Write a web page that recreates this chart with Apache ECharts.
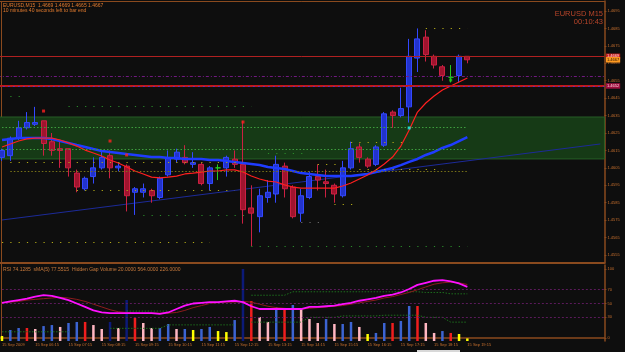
<!DOCTYPE html>
<html>
<head>
<meta charset="utf-8">
<script src="https://cdn.jsdelivr.net/npm/echarts@6.0.0/dist/echarts.min.js"></script>
<style>
html,body{margin:0;padding:0;background:#0e0e0e;overflow:hidden;}
#chart{width:625px;height:352px;}
</style>
</head>
<body>
<div id="chart"></div>
<script>
// ---------- data ----------
const times = ['05:15','05:30','05:45','06:00','06:15','06:30','06:45','07:00',
'07:15','07:30','07:45','08:00','08:15','08:30','08:45','09:00',
'09:15','09:30','09:45','10:00','10:15','10:30','10:45','11:00',
'11:15','11:30','11:45','12:00','12:15','12:30','12:45','13:00',
'13:15','13:30','13:45','14:00','14:15','14:30','14:45','15:00',
'15:15','15:30','15:45','16:00','16:15','16:30','16:45','17:00',
'17:15','17:30','17:45','18:00','18:15','18:30','18:45','19:00','19:15'];
const futureTimes = ['19:30','19:45','20:00','20:15','20:30','20:45','21:00','21:15',
'21:30','21:45','22:00','22:15','22:30','22:45','23:00','23:15'];

const opens = [1.4611,1.4612,1.4622,1.4628,1.4630,1.4632,1.4620,1.4616,1.4616,1.4602,
1.4593,1.4600,1.4605,1.4612,1.4605,1.4606,1.4591,1.4591,1.4592,1.4588,
1.4601,1.4610,1.4611,1.4607,1.4607,1.4596,1.4605,1.4605,1.4610,1.4607,
1.4582,1.4577,1.4588,1.4590,1.4606,1.4594,1.4579,1.4588,1.4600,1.4597,
1.4595,1.4589,1.4605,1.4617,1.4610,1.4607,1.4618,1.4637,1.4635,1.4640,
1.4668,1.4680,1.4669,1.4663,1.4657,1.4658,1.4669];
const closes = [1.4615,1.4622,1.4628,1.4631,1.4631,1.4619,1.4615,1.4615,1.4605,1.4594,
1.4599,1.4605,1.4611,1.4605,1.4606,1.4589,1.4593,1.4593,1.4589,1.4599,
1.4611,1.4614,1.4608,1.4608,1.4596,1.4605,1.4605,1.4611,1.4607,1.4581,
1.4579,1.4589,1.4591,1.4607,1.4593,1.4577,1.4589,1.4600,1.4598,1.4596,
1.4590,1.4605,1.4616,1.4611,1.4606,1.4617,1.4636,1.4635,1.4639,1.4669,
1.4679,1.4670,1.4664,1.4658,1.4657,1.4669,1.4667];
const lows = [1.4609,1.4609,1.4621,1.4627,1.4629,1.4612,1.4612,1.4605,1.4600,1.4591,
1.4592,1.4596,1.4604,1.4599,1.4603,1.4580,1.4578,1.4588,1.4585,1.4587,
1.4600,1.4608,1.4607,1.4605,1.4595,1.4592,1.4598,1.4600,1.4605,1.4573,
1.4560,1.4568,1.4585,1.4585,1.4588,1.4576,1.4574,1.4587,1.4592,1.4588,
1.4585,1.4588,1.4604,1.4608,1.4605,1.4606,1.4617,1.4628,1.4634,1.4631,
1.4660,1.4666,1.4662,1.4655,1.4654,1.4654,1.4665];
const highs = [1.4616,1.4623,1.4632,1.4637,1.4640,1.4632,1.4625,1.4620,1.4616,1.4604,
1.4600,1.4611,1.4615,1.4615,1.4608,1.4607,1.4594,1.4596,1.4593,1.4600,
1.4615,1.4616,1.4618,1.4614,1.4608,1.4606,1.4607,1.4612,1.4615,1.4632,
1.4595,1.4593,1.4598,1.4612,1.4608,1.4595,1.4593,1.4603,1.4607,1.4604,
1.4596,1.4609,1.4620,1.4619,1.4611,1.4618,1.4637,1.4638,1.4651,1.4679,
1.4685,1.4684,1.4670,1.4664,1.4664,1.4670,1.4669];

const maSlow = [1.46210,1.46216,1.46221,1.46221,1.46221,1.46221,1.46216,1.46204,1.46193,1.46181,
1.46170,1.46158,1.46147,1.46141,1.46135,1.46129,1.46124,1.46118,1.46112,1.46112,
1.46107,1.46107,1.46101,1.46101,1.46101,1.46095,1.46095,1.46089,1.46084,1.46078,
1.46072,1.46066,1.46055,1.46049,1.46043,1.46032,1.46020,1.46015,1.46009,1.46003,
1.46003,1.46003,1.46003,1.46009,1.46015,1.46026,1.46038,1.46049,1.46066,1.46084,
1.46101,1.46124,1.46141,1.46164,1.46181,1.46204,1.46227];
const maFast = [1.46170,1.46187,1.46204,1.46216,1.46221,1.46221,1.46221,1.46210,1.46193,1.46175,
1.46152,1.46135,1.46118,1.46095,1.46078,1.46055,1.46032,1.46015,1.45997,1.45992,
1.45997,1.46003,1.46015,1.46020,1.46026,1.46032,1.46032,1.46038,1.46038,1.46026,
1.46003,1.45986,1.45974,1.45969,1.45952,1.45940,1.45934,1.45934,1.45934,1.45934,
1.45934,1.45946,1.45963,1.45986,1.46009,1.46038,1.46072,1.46112,1.46175,1.46267,
1.46370,1.46422,1.46462,1.46497,1.46520,1.46543,1.46566];

const trendIdx = [0, 72];
const trendPrice = [1.45751, 1.46187];

const zoneTop = 1.46342, zoneBottom = 1.46101;

const levelPrice = [1.46462,1.46405,1.46284,1.46158,1.46084,1.46032,1.45923,1.45779,1.45625,1.45602,1.46198,1.46135,1.46072,1.46043,1.45843,1.45739,1.46852];
const levelFrom  = [1,8,0,0,1,1,9,17,0,30,42,32,38,43,40,36,51];
const levelTo    = [3,30,56,56,29,56,28,30,25,56,49,37,41,53,43,39,56];
const levelKind  = ['g','g','z','z','y','o','y','g','y','g','y','g','y','y','y','s','y'];

const orderLines = [1.4669, 1.46577, 1.4652];

const noteText  = ['Lower High 3 CW','Can not buy before London Open','Selling pressure','PnD','W','W','W','W','PBC','S','Test','NS','S','Effort','PNB','<10:43','#8031329 buy'];
const noteIdx   = [4,22,29,12,14,21,23,25,15,16,18,44,30,49,53,57,2];
const notePrice = [1.46410,1.46233,1.46330,1.46130,1.46124,1.46170,1.46193,1.46141,1.45762,1.45751,1.45808,1.45963,1.45561,1.46256,1.46480,1.46704,1.46594];
const noteKind  = ['n','n','n','n','n','n','n','n','n','n','n','n','n','n','n','t','o'];

const markIdx   = [5,13,15,29,49,54];
const markPrice = [1.46376,1.46204,1.46124,1.46313,1.46279,1.46554];
const markKind  = ['r','r','r','r','c','g'];

const volumes = [39,86,102,102,94,117,125,110,141,149,
149,125,94,149,102,321,180,141,102,102,
133,94,94,86,94,110,78,70,164,564,
313,188,149,266,258,282,251,172,141,172,
133,133,149,110,55,63,141,141,157,274,
274,141,63,78,63,55,20];
const volTypes = ['Y','B','B','R','P','B','B','P','B','B',
'R','P','P','N','P','N','R','P','P','B',
'B','P','B','Y','B','B','Y','Y','B','N',
'R','P','P','B','R','B','P','P','P','B',
'P','B','B','P','Y','B','B','R','B','B',
'R','P','P','B','R','Y','Y'];

const rsi = [51,53,55,57,60,62,61,58,55,50,
45,40,37,36,36,36,36,36,36,35,
37,42,47,50,51,52,52,53,54,52,
46,42,42,42,42,42,42,45,45,46,
47,49,51,54,56,58,61,63,66,71,
77,80,83,84,82,79,74.13];
const rsiMa = [51,52,53,55,56,57,58,59,58,56,
53,49,45,41,38,37,36,36,36,36,
36,37,40,44,47,50,51,52,52,53,
52,49,46,44,43,42,42,43,44,45,
46,47,49,51,53,55,58,60,63,66,
70,74,78,80,81,80,77.55];
const rsiUpper = [null,null,null,null,null,null,null,null,null,null,
null,null,null,null,null,39,39,39,39,39,
39,null,null,null,null,null,null,null,null,null,
62,62,62,62,62,67,67,67,67,67,
67,67,67,67,67,67,67,67,67,67,
67,66,66,66,64,64,64];
const rsiLower = [9,9,9,9,9,9,9,9,9,null,
null,null,null,14,14,14,14,14,14,14,
19,19,19,19,19,19,19,19,19,null,
23,23,23,23,23,23,23,30,30,30,
30,32,32,32,32,32,33,33,33,33,
33,30,30,30,23,23,23];
const rsiLevels = [30,50,70];

const priceTicks = [1.4555,1.4565,1.4575,1.4585,1.4595,1.4605,1.4615,1.4625,1.4635,1.4645,1.4655,1.4665,1.4675,1.4685,1.4695];
const rsiTicks = [0,30,50,70,100];
const labelTimes = ['05:15','06:15','07:15','08:15','09:15','10:15','11:15','12:15','13:15','14:15','15:15','16:15','17:15','18:15','19:15'];
const labelTexts = ['15 Sep 2009','15 Sep 06:15','15 Sep 07:15','15 Sep 08:15','15 Sep 09:15','15 Sep 10:15','15 Sep 11:15','15 Sep 12:15','15 Sep 13:15','15 Sep 14:15','15 Sep 15:15','15 Sep 16:15','15 Sep 17:15','15 Sep 18:15','15 Sep 19:15'];

// ---------- build ----------
const FRAME = '#8a4a1e', LBL = '#c8702e';
const FONT = '"Liberation Sans", Arial, sans-serif';
const cats = times.concat(futureTimes);
const n = times.length;
const candleData = opens.map((o, i) => [o, closes[i], lows[i], highs[i]]);

const levelStyle = {
  g: {color: '#2a8a2a', type: [1.2, 7.1], width: 1.2},
  z: {color: '#3e9e3e', type: [1.5, 2], width: 1},
  y: {color: '#b0a818', type: [1.2, 7.1], width: 1.2},
  o: {color: '#7a7418', type: [1.5, 2], width: 1},
  s: {color: '#6a6a6a', type: [1.2, 7.1], width: 1.2}
};
const levelLines = levelPrice.map((p, k) => [
  {coord: [levelFrom[k], p], lineStyle: levelStyle[levelKind[k]]},
  {coord: [levelTo[k], p]}
]);

const noteColor = {n: '#a0a0a0', t: '#c020c0', o: '#d2691e'};
const noteData = noteIdx.map((x, k) => ({
  value: [x, notePrice[k]],
  label: {color: noteColor[noteKind[k]]}
}));
const markColor = {r: '#ff2020', c: '#20f0f0', g: '#20d020'};
const markData = markIdx.map((x, k) => ({
  value: [x, markPrice[k]],
  itemStyle: {color: markColor[markKind[k]]}
}));
const volColor = {B: '#3c64d2', N: '#0c1a78', R: '#f01e1e', P: '#ffb6c1', Y: '#ffff00'};
const volData = volumes.map((v, i) => ({value: v, itemStyle: {color: volColor[volTypes[i]]}}));

const boxLabel = (txt, bg, fg) => ({
  show: true, position: 'end', distance: 1.5, formatter: txt,
  backgroundColor: bg, color: fg, fontSize: 4, fontFamily: FONT, padding: [1, 1, 0.5, 1]
});

const last = n - 1;
const headText = 'EURUSD,M15  ' + [opens[last], highs[last], lows[last], closes[last]].map(v => v.toFixed(4)).join(' ');

const option = {
  backgroundColor: '#0e0e0e',
  animation: false,
  textStyle: {fontFamily: FONT},
  grid: [
    {left: -2.15, width: 606.6, top: 1, height: 262, outerBoundsMode: 'none', containLabel: false},
    {left: -2.15, width: 606.6, top: 265, height: 76, outerBoundsMode: 'none', containLabel: false}
  ],
  xAxis: [
    {type: 'category', gridIndex: 0, data: cats, boundaryGap: true,
     axisLine: {show: true, lineStyle: {color: FRAME, width: 2}}, axisTick: {show: false},
     axisLabel: {show: false}, splitLine: {show: false}},
    {type: 'category', gridIndex: 1, data: cats, boundaryGap: true,
     axisLine: {show: true, lineStyle: {color: FRAME, width: 1.5}},
     axisTick: {show: true, alignWithLabel: true, length: 2, interval: (i, v) => labelTimes.includes(v), lineStyle: {color: FRAME}},
     axisLabel: {show: true, interval: (i, v) => labelTimes.includes(v),
       formatter: (v) => labelTexts[labelTimes.indexOf(v)], align: 'left',
       fontSize: 4, color: LBL, margin: 2, fontFamily: FONT},
     splitLine: {show: false}},
    {type: 'category', gridIndex: 0, position: 'top', data: cats, boundaryGap: true,
     axisLine: {show: true, lineStyle: {color: FRAME, width: 1}}, axisTick: {show: false},
     axisLabel: {show: false}, splitLine: {show: false}}
  ],
  yAxis: [
    {type: 'value', gridIndex: 0, position: 'right', min: 1.455041, max: 1.470074,
     splitLine: {show: false},
     axisLine: {show: true, lineStyle: {color: FRAME, width: 1.5}},
     axisTick: {show: true, length: 2, customValues: priceTicks, lineStyle: {color: FRAME}},
     axisLabel: {show: true, customValues: priceTicks, formatter: (v) => v.toFixed(4),
       fontSize: 4, color: LBL, margin: 3, fontFamily: FONT}},
    {type: 'value', gridIndex: 1, position: 'right', min: -4.35, max: 105.8,
     splitLine: {show: false},
     axisLine: {show: true, lineStyle: {color: FRAME, width: 1.5}},
     axisTick: {show: true, length: 2, customValues: rsiTicks, lineStyle: {color: FRAME}},
     axisLabel: {show: true, customValues: rsiTicks, formatter: (v) => String(v),
       fontSize: 4, color: LBL, margin: 3, fontFamily: FONT}},
    {type: 'value', gridIndex: 1, min: 0, max: 595, show: false}
  ],
  series: [
    {type: 'line', xAxisIndex: 0, yAxisIndex: 0, data: times.map(() => null), z: 1, silent: true,
     markArea: {silent: true, itemStyle: {color: '#163a16', borderColor: '#2c6a2c', borderWidth: 0.8},
       data: [[{yAxis: zoneTop}, {yAxis: zoneBottom}]]},
     markLine: {silent: true, symbol: 'none', precision: 6, label: {show: false}, data: levelLines}},
    {type: 'line', xAxisIndex: 0, yAxisIndex: 0, data: trendIdx.map((x, k) => [x, trendPrice[k]]),
     symbol: 'none', silent: true, z: 2, lineStyle: {color: '#1c2a98', width: 1},
     markLine: {silent: true, symbol: 'none', precision: 6, data: [
       {yAxis: orderLines[0], lineStyle: {color: '#b02020', width: 1, type: 'solid'},
        label: boxLabel(orderLines[0].toFixed(4), '#c81e1e', '#ffe0e0')},
       {yAxis: orderLines[1], lineStyle: {color: '#701a80', width: 1, type: [3, 2, 1, 2]}, label: {show: false}},
       {yAxis: orderLines[2], lineStyle: {color: '#c01818', width: 2, type: 'solid'},
        label: boxLabel(orderLines[2].toFixed(4), '#a01040', '#ffd8e0')},
       {yAxis: orderLines[2], lineStyle: {color: '#6a2ab0', width: 1, type: [2, 3]}, label: {show: false}}
     ]}},
    {type: 'candlestick', xAxisIndex: 0, yAxisIndex: 0, data: candleData, barWidth: 5.5, z: 3, silent: true,
     itemStyle: {color: '#2233cc', color0: '#a0142e', borderColor: '#3348ff', borderColor0: '#cc2042',
       borderColorDoji: '#22cc22', borderWidth: 1}},
    {type: 'line', xAxisIndex: 0, yAxisIndex: 0, data: maSlow, symbol: 'none', silent: true, z: 4,
     lineStyle: {color: '#1f3cff', width: 2.5},
     markLine: {silent: true, symbol: 'none', precision: 6, data: [
       {yAxis: closes[last], lineStyle: {color: 'rgba(0,0,0,0)', width: 0},
        label: boxLabel(closes[last].toFixed(4), '#ff9a20', '#201000')}
     ]}},
    {type: 'line', xAxisIndex: 0, yAxisIndex: 0, data: maFast, symbol: 'none', silent: true, z: 4,
     lineStyle: {color: '#ff1f1f', width: 1.2}},
    {type: 'scatter', xAxisIndex: 0, yAxisIndex: 0, data: markData, symbol: 'rect', symbolSize: 3, z: 5, silent: true},
    {type: 'scatter', xAxisIndex: 0, yAxisIndex: 0, data: noteData, symbolSize: 0.1, z: 6, silent: true,
     itemStyle: {opacity: 0},
     label: {show: true, position: 'inside', formatter: (p) => noteText[p.dataIndex], fontSize: 5.5, fontFamily: FONT}},
    {type: 'bar', xAxisIndex: 1, yAxisIndex: 2, data: volData, barWidth: 2.5, z: 2, silent: true},
    {type: 'line', xAxisIndex: 1, yAxisIndex: 1, data: rsiUpper, symbol: 'none', silent: true, z: 3,
     lineStyle: {color: '#1d6e1d', width: 1, type: [1.5, 1.5]}},
    {type: 'line', xAxisIndex: 1, yAxisIndex: 1, data: rsiLower, symbol: 'none', silent: true, z: 3,
     lineStyle: {color: '#1d6e1d', width: 1, type: [1.5, 1.5]}},
    {type: 'line', xAxisIndex: 1, yAxisIndex: 1, data: rsiMa, symbol: 'none', silent: true, z: 4,
     lineStyle: {color: '#8c1c1c', width: 1}},
    {type: 'line', xAxisIndex: 1, yAxisIndex: 1, data: rsi, symbol: 'none', silent: true, z: 5,
     lineStyle: {color: '#ff10ff', width: 1.8},
     markLine: {silent: true, symbol: 'none', label: {show: false},
       lineStyle: {color: '#5b1a5b', width: 1, type: [2, 2]},
       data: rsiLevels.map(v => ({yAxis: v}))}}
  ],
  graphic: [
    {type: 'line', shape: {x1: 1.5, y1: 1, x2: 1.5, y2: 341}, style: {stroke: FRAME, lineWidth: 1}, silent: true},
    {type: 'text', x: 3, y: 5.5, silent: true, style: {text: headText, fill: '#e07a2e', font: '5px ' + FONT, align: 'left', verticalAlign: 'middle'}},
    {type: 'text', x: 3, y: 11, silent: true, style: {text: '10 minutes 40 seconds left to bar end', fill: '#e07a2e', font: '5px ' + FONT, align: 'left', verticalAlign: 'middle'}},
    {type: 'text', x: 603, y: 14, silent: true, style: {text: 'EURUSD M15', fill: '#b8452a', font: '7.5px ' + FONT, align: 'right', verticalAlign: 'middle'}},
    {type: 'text', x: 603, y: 22, silent: true, style: {text: '00:10:43', fill: '#b8452a', font: '7.5px ' + FONT, align: 'right', verticalAlign: 'middle'}},
    {type: 'text', x: 3, y: 270, silent: true, style: {text: 'RSI 74.1285  sMA(5) 77.5515  Hidden Gap Volume 20.0000 564.0000 226.0000', fill: '#c87a3c', font: '5px ' + FONT, align: 'left', verticalAlign: 'middle'}},
    {type: 'rect', shape: {x: 417, y: 350, width: 43, height: 2}, style: {fill: '#d8d8d8'}, silent: true}
  ]
};

const chart = echarts.init(document.getElementById('chart'), null, {renderer: 'canvas', width: 625, height: 352});
chart.setOption(option);
</script>
</body>
</html>
